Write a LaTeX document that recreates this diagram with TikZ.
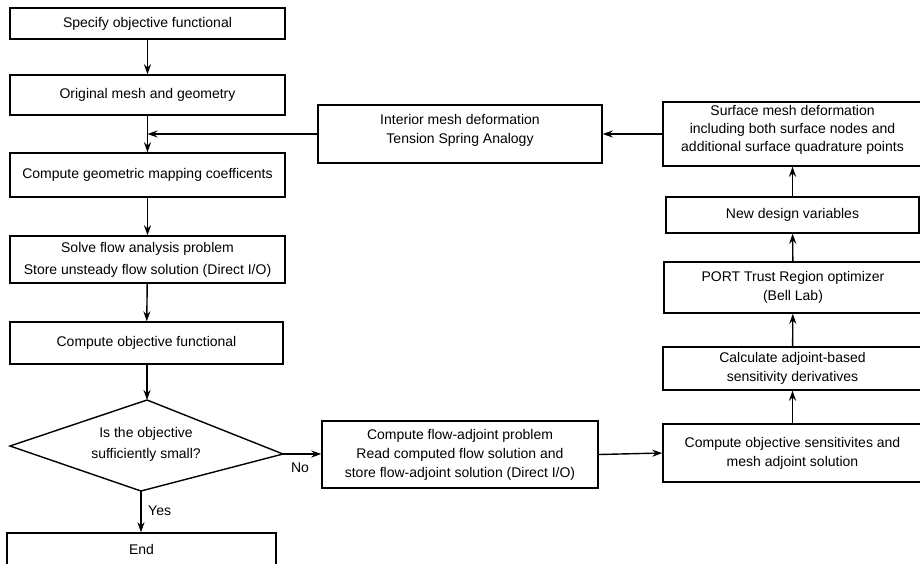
\documentclass[tikz,border=0pt]{standalone}
\usepackage{fontspec}
\setmainfont{Liberation Sans}
\usetikzlibrary{arrows.meta}
\begin{document}
\begin{tikzpicture}[x=1pt,y=-1pt,
  box/.style={draw, line width=1.4pt, rectangle, inner sep=0pt, align=center,
    font=\fontsize{14}{19}\selectfont},
  lbl/.style={inner sep=0pt, font=\fontsize{14}{19}\selectfont},
  arr/.style={line width=1.4pt, -{Stealth[length=10pt,width=7pt]}},
  ln/.style={line width=1.4pt}]
\useasboundingbox (0,0) rectangle (920,563);
% left column
\node[box, minimum width=275pt, minimum height=31pt] (b1) at (147.5,23.5) {Specify objective functional};
\node[box, minimum width=275pt, minimum height=40pt] (b2) at (147.5,95) {Original mesh and geometry};
\node[box, minimum width=275pt, minimum height=44pt] (b3) at (147.5,175) {Compute geometric mapping coefficents};
\node[box, minimum width=275pt, minimum height=47pt, font=\fontsize{14}{22}\selectfont] (b4) at (147.5,259.5) {Solve flow analysis problem\\Store unsteady flow solution (Direct I/O)};
\node[box, minimum width=273pt, minimum height=42pt] (b5) at (146.5,343) {Compute objective functional};
% decision diamond
\coordinate (dt) at (147,400);
\coordinate (dl) at (10,446);
\coordinate (dr) at (283,454);
\coordinate (db) at (141,491);
\draw[ln, line join=miter] (dt) -- (dr) -- (db) -- (dl) -- cycle;
\node[lbl, align=center, font=\fontsize{14}{21}\selectfont] (dtext) at (146,444.5) {Is the objective\\sufficiently small?};
\node[box, minimum width=269pt, minimum height=32pt] (end) at (141.5,549) {End};
% middle
\node[box, minimum width=276pt, minimum height=67pt] (b6) at (460,454.5) {Compute flow-adjoint problem\\Read computed flow solution and\\store flow-adjoint solution (Direct I/O)};
\node[box, minimum width=284pt, minimum height=58pt] (b12) at (460,134) {};
\node[lbl, align=center] (b12t) at (460,130.5) {Interior mesh deformation\\Tension Spring Analogy};
% right column
\node[box, minimum width=259pt, minimum height=58pt] (b7) at (792.5,453) {Compute objective sensitivites and\\ mesh adjoint solution};
\node[box, minimum width=259pt, minimum height=43pt] (b8) at (792.5,368.5) {Calculate adjoint-based\\sensitivity derivatives};
\node[box, minimum width=258pt, minimum height=51pt] (b9) at (793,287.5) {PORT Trust Region optimizer\\(Bell Lab)};
\node[box, minimum width=253pt, minimum height=36pt] (b10) at (792.5,215) {New design variables};
\node[box, minimum width=259pt, minimum height=64pt] (b11) at (792.5,134) {};
\node[lbl, align=center, font=\fontsize{14}{18}\selectfont] (b11t) at (792.5,129.5) {Surface mesh deformation\\including both surface nodes and\\additional surface quadrature points};
% connectors
\coordinate (j) at (147.5,134);
\draw[arr] (b1) -- (b2);
\draw[arr] (b2) -- (b3);
\draw[arr] (b3) -- (b4);
\draw[arr] (b4) -- (b5);
\draw[arr] (b5.south -| dt) -- (dt);
\draw[arr] (db) -- (db |- end.north);
\draw[arr] (dr) -- (b6.west |- dr);
\draw[arr] (b6.east) -- (b7.west);
\draw[arr] (b7) -- (b8);
\draw[arr] (b8) -- (b9);
\draw[arr] (b9) -- (b10);
\draw[arr] (b10) -- (b11);
\draw[arr] (b11) -- (b12);
\draw[arr] (b12) -- (j);
\node[lbl, anchor=west] (yes) at (148,511) {Yes};
\node[lbl] (no) at (300,468) {No};
\end{tikzpicture}
\end{document}
